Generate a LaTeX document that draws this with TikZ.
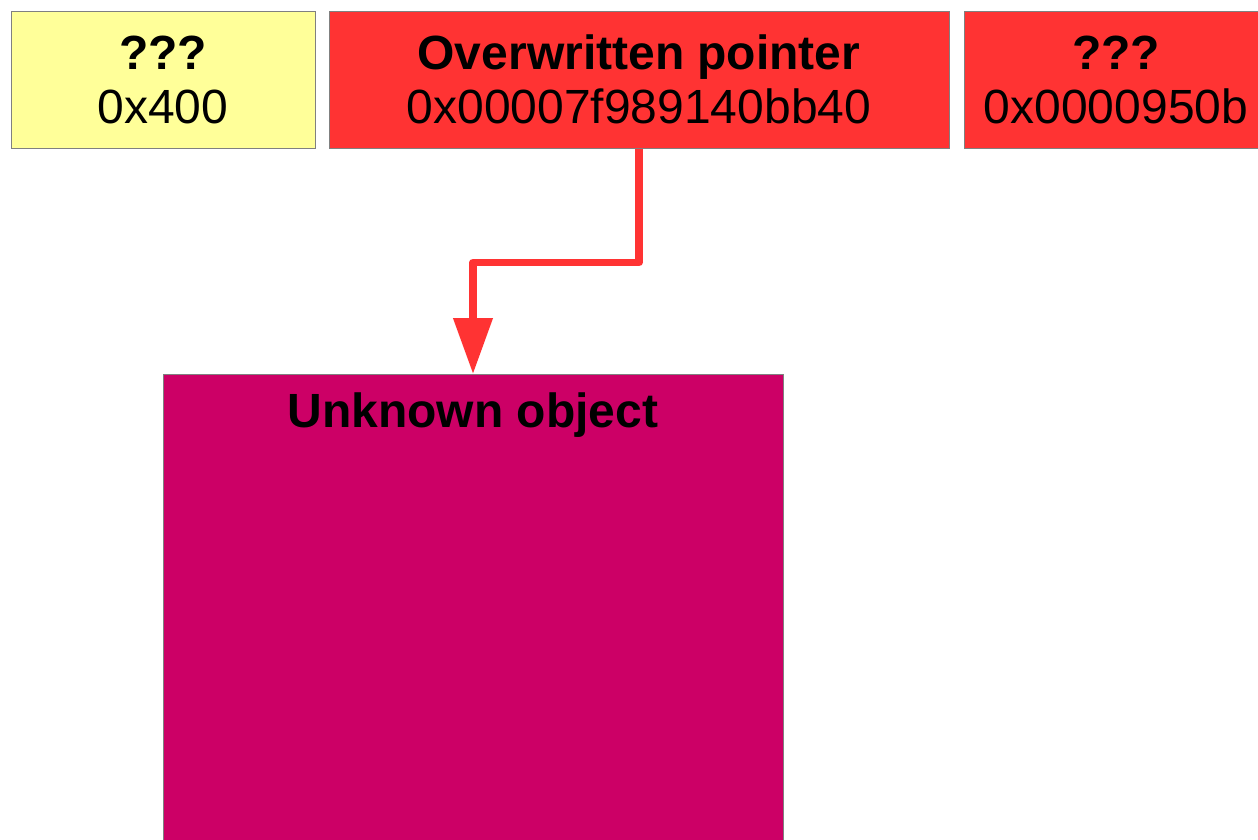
\documentclass[tikz,border=0pt]{standalone}
\usepackage{fontspec}
\setmainfont{Liberation Sans}
\usetikzlibrary{arrows.meta,positioning}
\definecolor{myyellow}{RGB}{255,255,153}
\definecolor{myred}{RGB}{255,51,51}
\definecolor{mymagenta}{RGB}{204,0,102}
\definecolor{myborder}{RGB}{128,128,128}

\begin{document}
\begin{tikzpicture}[x=1pt,y=-1pt,
    cell/.style={draw=myborder,line width=1pt,minimum height=137pt,inner sep=0pt,align=center,font=\fontsize{48}{54}\selectfont},
    ptrline/.style={myred,line width=7.5pt,line join=round,-{Triangle[length=56pt,width=38pt]}}]
    \useasboundingbox (0,0) rectangle (1258,839);
    \clip (0,0) rectangle (1258,839);
    % memory cells
    \node[cell,fill=myyellow,minimum width=304pt] (unk1) at (163,79.5) {\textbf{???}\\0x400};
    \node[cell,fill=myred,minimum width=620pt] (ptr) at (639,79.5) {\textbf{Overwritten pointer}\\0x00007f989140bb40};
    \node[cell,fill=myred,minimum width=304pt] (unk2) at (1116,79.5) {\textbf{???}\\0x0000950b};
    % pointed-to object
    \node[draw=myborder,line width=1pt,fill=mymagenta,minimum width=620pt,minimum height=520pt,anchor=north] (obj) at (473,374) {};
    \node[font=\bfseries\fontsize{48}{54}\selectfont,anchor=base] (objtitle) at (473,427) {Unknown object};
    \draw[ptrline] (ptr.south) -- ++(0,114) -| (obj.north);
\end{tikzpicture}
\end{document}
